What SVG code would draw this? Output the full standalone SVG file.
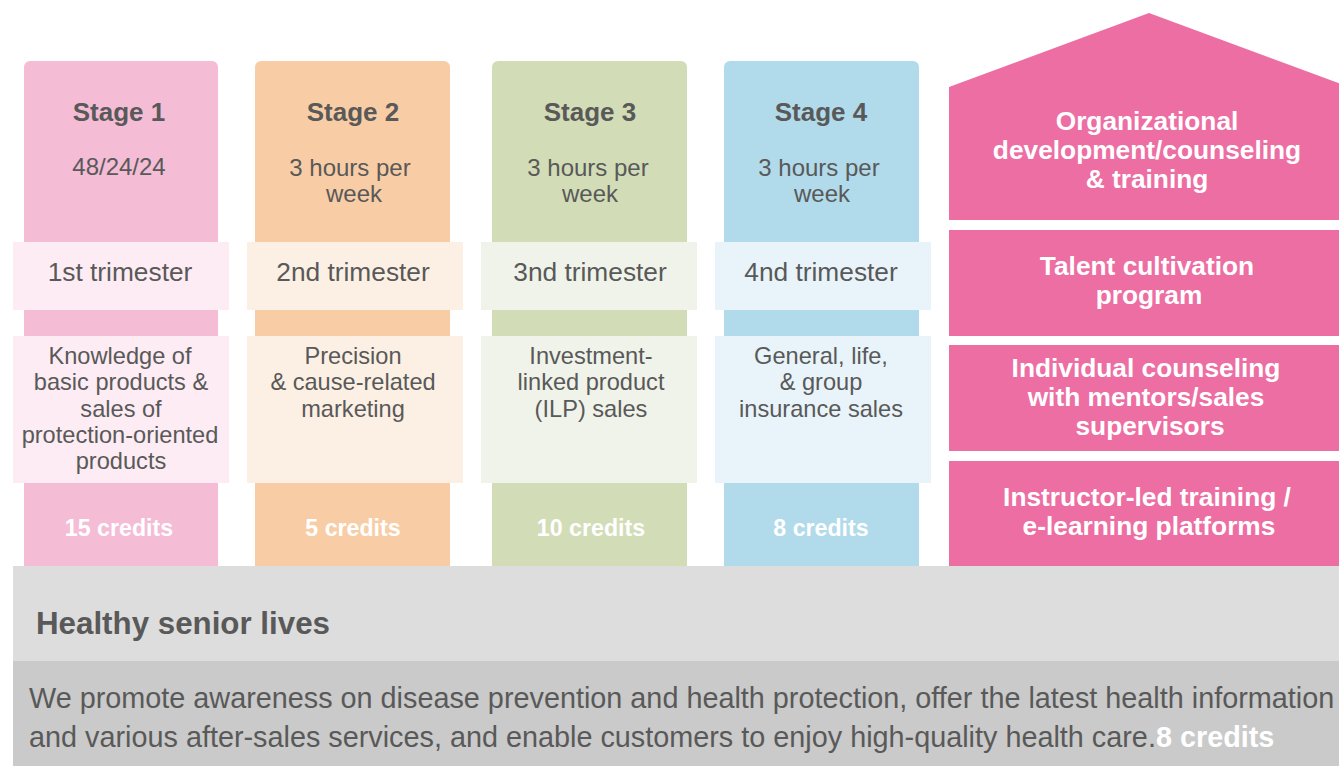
<svg xmlns="http://www.w3.org/2000/svg" width="1339" height="766" viewBox="0 0 1339 766">
<style>
text{font-family:"Liberation Sans",Arial,sans-serif;fill:#595959;text-anchor:middle}
.title{font-size:26px;font-weight:bold}
.sub{font-size:24px}
.tri{font-size:26.3px}
.desc{font-size:23.6px}
.cred{font-size:23.2px;font-weight:bold;fill:#ffffff}
.pk{fill:#EC6EA3}
.pt{font-size:26.3px;font-weight:bold;fill:#ffffff}
.para{font-size:28.8px;text-anchor:start}
</style>
<rect width="1339" height="766" fill="#ffffff"/>

<g id="stage1">
<rect x="24" y="61" width="194" height="520" rx="6" fill="#F5BCD6"/>
<rect x="13" y="242" width="216" height="68" fill="#FDECF3"/>
<rect x="13" y="336" width="216" height="147" fill="#FDECF3"/>
<text class="title" x="119" y="121">Stage 1</text>
<text class="sub" x="119" y="175">48/24/24</text>
<text class="tri" x="120" y="281">1st trimester</text>
<text class="desc" x="120" y="364">Knowledge of</text>
<text class="desc" x="121" y="390">basic products &amp;</text>
<text class="desc" x="121" y="417">sales of</text>
<text class="desc" x="120" y="443">protection-oriented</text>
<text class="desc" x="121" y="469">products</text>
<text class="cred" x="119" y="536">15 credits</text>
</g>

<g id="stage2">
<rect x="255" y="61" width="195" height="520" rx="6" fill="#F8CDA6"/>
<rect x="247" y="242" width="216" height="68" fill="#FCF0E4"/>
<rect x="247" y="336" width="216" height="147" fill="#FCF0E4"/>
<text class="title" x="353" y="121">Stage 2</text>
<text class="sub" x="350" y="176">3 hours per</text>
<text class="sub" x="354" y="202">week</text>
<text class="tri" x="353" y="281">2nd trimester</text>
<text class="desc" x="353" y="364">Precision</text>
<text class="desc" x="353" y="390">&amp; cause-related</text>
<text class="desc" x="353" y="417">marketing</text>
<text class="cred" x="353" y="536">5 credits</text>
</g>

<g id="stage3">
<rect x="492" y="61" width="195" height="520" rx="6" fill="#D2DDB7"/>
<rect x="481" y="242" width="216" height="68" fill="#F0F3E9"/>
<rect x="481" y="336" width="216" height="147" fill="#F0F3E9"/>
<text class="title" x="590" y="121">Stage 3</text>
<text class="sub" x="588" y="176">3 hours per</text>
<text class="sub" x="590" y="202">week</text>
<text class="tri" x="590" y="281">3nd trimester</text>
<text class="desc" x="591" y="364">Investment-</text>
<text class="desc" x="591" y="390">linked product</text>
<text class="desc" x="591" y="417">(ILP) sales</text>
<text class="cred" x="591" y="536">10 credits</text>
</g>

<g id="stage4">
<rect x="724" y="61" width="195" height="520" rx="6" fill="#B1DAEA"/>
<rect x="715" y="242" width="216" height="68" fill="#E8F4F9"/>
<rect x="715" y="336" width="216" height="147" fill="#E8F4F9"/>
<text class="title" x="821" y="121">Stage 4</text>
<text class="sub" x="819" y="176">3 hours per</text>
<text class="sub" x="822" y="202">week</text>
<text class="tri" x="821" y="281">4nd trimester</text>
<text class="desc" x="821" y="364">General, life,</text>
<text class="desc" x="821" y="390">&amp; group</text>
<text class="desc" x="821" y="417">insurance sales</text>
<text class="cred" x="821" y="536">8 credits</text>
</g>

<g id="org">
<polygon class="pk" points="949,87 1149,13 1349,87"/>
<rect class="pk" x="949" y="87" width="400" height="133"/>
<text class="pt" x="1147" y="130">Organizational</text>
<text class="pt" x="1147" y="159">development/counseling</text>
<text class="pt" x="1147" y="188">&amp; training</text>
</g>

<g id="talent">
<rect class="pk" x="949" y="230" width="400" height="106"/>
<text class="pt" x="1147" y="275">Talent cultivation</text>
<text class="pt" x="1149" y="304">program</text>
</g>

<g id="individual">
<rect class="pk" x="949" y="345" width="400" height="106"/>
<text class="pt" x="1146" y="377">Individual counseling</text>
<text class="pt" x="1146" y="406">with mentors/sales</text>
<text class="pt" x="1150" y="435">supervisors</text>
</g>

<g id="instructor">
<rect class="pk" x="949" y="461" width="400" height="120"/>
<text class="pt" x="1147" y="506">Instructor-led training /</text>
<text class="pt" x="1149" y="535">e-learning platforms</text>
</g>

<g id="healthy">
<rect x="13" y="566" width="1326" height="95" fill="#DCDDDC"/>
<rect x="13" y="661" width="1326" height="105" fill="#C9CAC9"/>
<text x="36" y="634" style="font-size:31.3px;font-weight:bold;text-anchor:start">Healthy senior lives</text>
<text class="para" x="29" y="708">We promote awareness on disease prevention and health protection, offer the latest health information</text>
<text class="para" x="29" y="747">and various after-sales services, and enable customers to enjoy high-quality health care.<tspan style="font-weight:bold;fill:#ffffff">8 credits</tspan></text>
</g>
</svg>
